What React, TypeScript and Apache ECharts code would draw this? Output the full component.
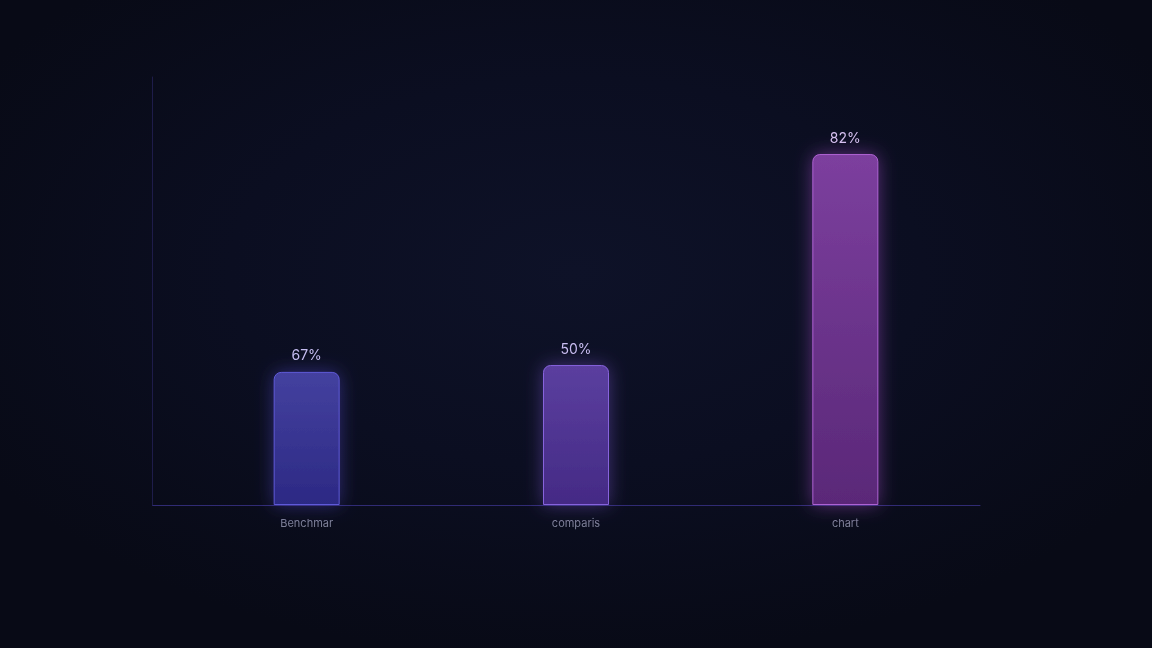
import React, { useEffect, useRef } from "react";
import * as echarts from "echarts";

const categories = ["Benchmar", "comparis", "chart"];
const values = [31.1, 32.7, 82];
const valueLabels = ["67%", "50%", "82%"];
const labelColors = ["#c4bcf0", "#c8bcf0", "#d6c0f0"];
const topColors = ["#44419f", "#5b3f9f", "#7c3f9e"];
const bottomColors = ["#2c2984", "#442a85", "#5a2878"];
const borderColors = ["#5f5ad8", "#8763dc", "#ae62d2"];
const glowColors = ["rgba(90,80,220,0.45)", "rgba(130,90,220,0.45)", "rgba(170,80,210,0.5)"];

export default function App() {
  const ref = useRef<HTMLDivElement>(null);
  useEffect(() => {
    document.body.style.margin = "0";
    const chart = echarts.init(ref.current!, null, { renderer: "svg" });
    chart.setOption({
      animation: false,
      backgroundColor: "transparent",
      grid: { left: 172, right: 172, top: 77, bottom: 143 },
      xAxis: {
        type: "category",
        data: categories,
        axisLine: { show: true, lineStyle: { color: "#302b74", width: 1 } },
        axisTick: { show: false },
        axisLabel: {
          color: "#7e8098",
          fontSize: 11,
          fontFamily: "Inter, sans-serif",
          margin: 12,
        },
      },
      yAxis: {
        type: "value",
        min: 0,
        max: 100,
        offset: 20,
        axisLine: { show: true, lineStyle: { color: "#1e1c4a", width: 1 } },
        axisTick: { show: false },
        axisLabel: { show: false },
        splitLine: { show: false },
      },
      graphic: [
        {
          type: "line",
          shape: { x1: 152, y1: 505.5, x2: 172, y2: 505.5 },
          style: { stroke: "#302b74", lineWidth: 1 },
          silent: true,
        },
      ],
      series: [
        {
          type: "bar",
          barWidth: 66,
          data: values.map((v, i) => ({
            value: v,
            itemStyle: {
              color: new echarts.graphic.LinearGradient(0, 0, 0, 1, [
                { offset: 0, color: topColors[i] },
                { offset: 1, color: bottomColors[i] },
              ]),
              borderColor: borderColors[i],
              borderWidth: 1,
              borderRadius: [7, 7, 0, 0],
              shadowBlur: 18,
              shadowColor: glowColors[i],
            },
            label: { color: labelColors[i] },
          })),
          label: {
            show: true,
            position: "top",
            distance: 10,
            fontSize: 14,
            fontFamily: "Inter, sans-serif",
            formatter: (p: any) => valueLabels[p.dataIndex],
          },
        },
      ],
    });
    return () => chart.dispose();
  }, []);
  return (
    <div
      style={{
        position: "fixed",
        left: 0,
        top: 0,
        width: 1152,
        height: 648,
        background:
          "radial-gradient(ellipse 60% 60% at 50% 42%, #0e1228 0%, #0b0e21 50%, #080a16 100%)",
      }}
    >
      <div ref={ref} style={{ width: 1152, height: 648 }} />
    </div>
  );
}
